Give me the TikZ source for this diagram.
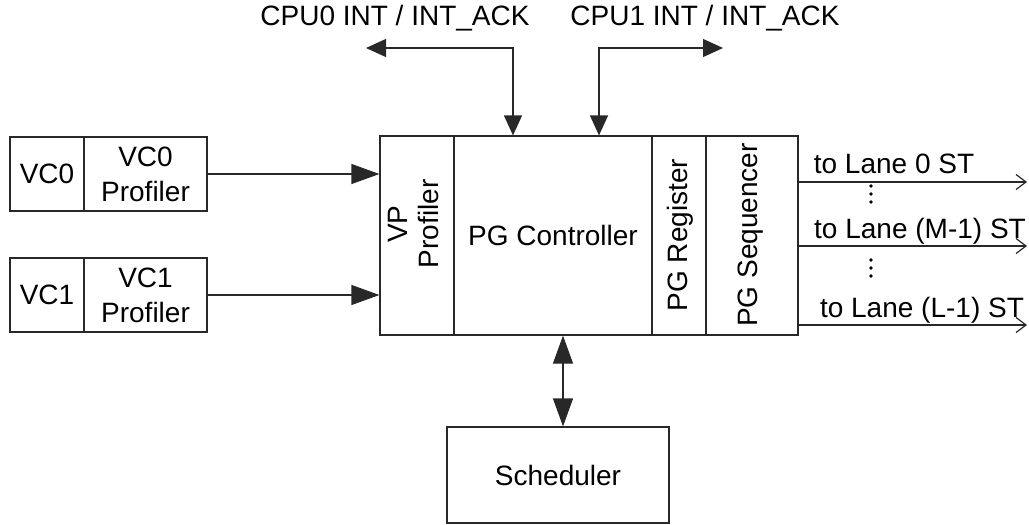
\documentclass[tikz,border=0pt]{standalone}
\usepackage{fontspec}
\setmainfont{Liberation Sans}
\usetikzlibrary{arrows.meta}
\definecolor{linec}{RGB}{40,40,40}
\begin{document}
\begin{tikzpicture}[x=1pt,y=-1pt,
  every node/.style={font=\fontsize{28}{35}\selectfont, text=black},
  box/.style={draw=linec, line width=1.2pt, inner sep=0pt, align=center},
  txt/.style={inner sep=0pt, align=center},
  wire/.style={draw=linec, line width=1.2pt},
  bigtip/.style={wire, {Triangle[length=28pt,width=20pt]}-{Triangle[length=28pt,width=20pt]}},
  intip/.style={wire, -{Triangle[length=28pt,width=20pt]}},
  cputip/.style={wire, {Triangle[length=20pt,width=18pt]}-{Triangle[length=20pt,width=18pt]}},
  outtip/.style={wire, -{Straight Barb[length=10pt,width=15pt,line width=1.2pt]}}]
\useasboundingbox (0,0) rectangle (1029,525);

% virtual channels and their profilers
\node[box, minimum width=74pt, minimum height=74pt] (vc0) at (47,174) {VC0};
\node[box, minimum width=123pt, minimum height=74pt] (vc0p) at (145.5,174) {VC0\\Profiler};
\node[box, minimum width=74pt, minimum height=74pt] (vc1) at (47,295) {VC1};
\node[box, minimum width=123pt, minimum height=74pt] (vc1p) at (145.5,295) {VC1\\Profiler};

% power-gating block
\node[box, minimum width=74pt, minimum height=199pt] (vp) at (417,235.5) {};
\node[box, minimum width=198pt, minimum height=199pt] (ctrl) at (553,235.5) {PG Controller};
\node[box, minimum width=54pt, minimum height=199pt] (reg) at (679,235.5) {};
\node[box, minimum width=92pt, minimum height=199pt] (seq) at (752,235.5) {};
\node[txt, rotate=90, font=\fontsize{28}{31}\selectfont] (vpt) at (414,224) {VP\\Profiler};
\node[txt, rotate=90] (regt) at (680,235) {PG Register};
\node[txt, rotate=90] (seqt) at (751,235) {PG Sequencer};

% scheduler
\node[box, minimum width=222pt, minimum height=96pt] (sched) at (558,475) {Scheduler};

% profiler outputs into the VP profiler
\draw[intip] (vc0p.east) -- (vc0p.east -| vp.west);
\draw[intip] (vc1p.east) -- (vc1p.east -| vp.west);

% scheduler link
\draw[bigtip] ([xshift=5pt]sched.north) -- ([xshift=5pt]sched.north |- ctrl.south);

% CPU interrupt lines
\coordinate (cpu0) at (366,48);
\coordinate (cpu1) at (723,48);
\draw[cputip] (cpu0) -| ([xshift=-40pt]ctrl.north);
\draw[cputip] (cpu1) -| ([xshift=46pt]ctrl.north);
\node[txt, anchor=base] (cpu0t) at (395,25) {CPU0 INT / INT\_ACK};
\node[txt, anchor=base] (cpu1t) at (705,25) {CPU1 INT / INT\_ACK};

% lane outputs
\coordinate (lane0) at (1027,182);
\coordinate (lanem) at (1027,246);
\coordinate (lanel) at (1027,325);
\draw[outtip] (seq.east |- lane0) -- (lane0);
\draw[outtip] (seq.east |- lanem) -- (lanem);
\draw[outtip] (seq.east |- lanel) -- (lanel);
\node[txt, anchor=base] (lane0t) at (894,173) {to Lane 0 ST};
\node[txt, anchor=base] (lanemt) at (920,238) {to Lane (M-1) ST};
\node[txt, anchor=base] (lanelt) at (922,317) {to Lane (L-1) ST};
\foreach \yy in {186,194,202,260,268,276}
  \fill[black] (871,\yy) circle (1.8pt);
\end{tikzpicture}
\end{document}
